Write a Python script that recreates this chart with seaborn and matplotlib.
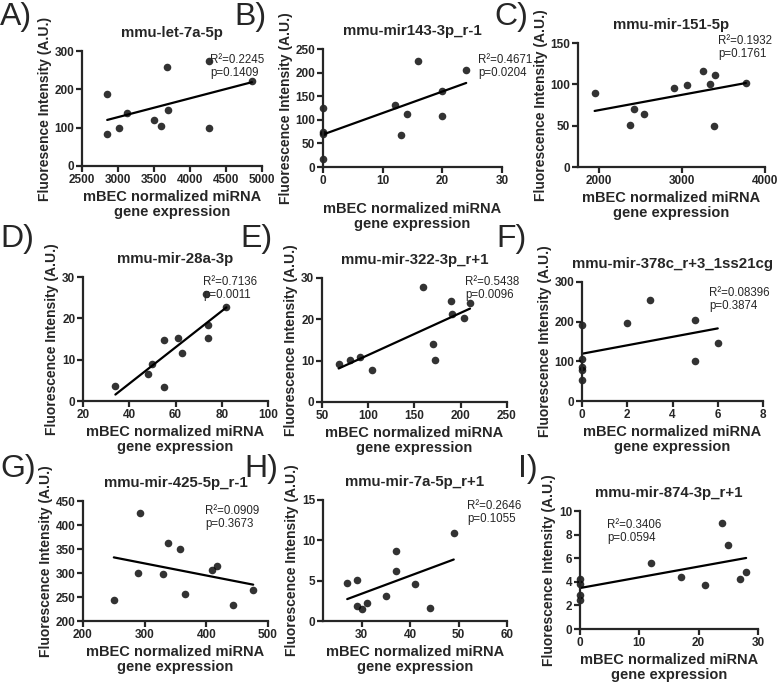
import numpy as np
import matplotlib
matplotlib.use("Agg")
import matplotlib.pyplot as plt
import seaborn as sns

# values
letters = ["A)", "B)", "C)", "D)", "E)", "F)", "G)", "H)", "I)"]
titles = ["mmu-let-7a-5p", "mmu-mir143-3p_r-1", "mmu-mir-151-5p",
          "mmu-mir-28a-3p", "mmu-mir-322-3p_r+1", "mmu-mir-378c_r+3_1ss21cg",
          "mmu-mir-425-5p_r-1", "mmu-mir-7a-5p_r+1", "mmu-mir-874-3p_r+1"]
r2_labels = ["R²=0.2245", "R²=0.4671", "R²=0.1932", "R²=0.7136", "R²=0.5438",
             "R²=0.08396", "R²=0.0909", "R²=0.2646", "R²=0.3406"]
p_labels = ["p=0.1409", "p=0.0204", "p=0.1761", "p=0.0011", "p=0.0096",
            "p=0.3874", "p=0.3673", "p=0.1055", "p=0.0594"]

a_x = [2850, 2850, 3010, 3130, 3500, 3600, 3680, 3700, 4270, 4270, 4860]
a_y = [188, 83, 99, 139, 121, 105, 257, 145, 274, 100, 221]
b_x = [0, 0, 0, 0, 12, 13, 14, 16, 20, 20, 24]
b_y = [125, 75, 70, 18, 132, 68, 113, 224, 161, 107, 206]
c_x = [1950, 2370, 2420, 2540, 2900, 3060, 3250, 3340, 3400, 3390, 3770]
c_y = [90, 51, 70, 64, 96, 99, 116, 100, 111, 50, 102]
d_x = [34, 48, 50, 55, 55, 61, 63, 73, 74, 74, 82]
d_y = [3.7, 6.5, 8.9, 14.8, 3.4, 15.3, 11.7, 26, 18.4, 15.2, 22.8]
e_x = [68, 80, 91, 104, 159, 170, 172, 189, 191, 203, 210]
e_y = [9.3, 10.2, 10.8, 7.7, 27.8, 14, 10.2, 24.4, 21.2, 20.3, 24]
f_x = [0, 0, 0, 0, 0, 2, 3, 5, 5, 6]
f_y = [192, 105, 85, 78, 54, 196, 254, 204, 100, 147]
g_x = [250, 290, 293, 330, 338, 358, 366, 409, 417, 443, 476]
g_y = [243, 299, 425, 297, 363, 349, 257, 306, 314, 234, 264]
h_x = [27, 29, 29, 30, 31, 35, 37, 37, 41, 44, 49]
h_y = [4.7, 5.1, 1.8, 1.5, 2.2, 3.1, 8.7, 6.2, 4.6, 1.6, 10.9]
i_x = [0, 0, 0, 0, 12, 17, 21, 24, 25, 27, 28]
i_y = [4.2, 3.8, 2.9, 2.5, 5.6, 4.4, 3.7, 9.0, 7.1, 4.2, 4.8]

xs = [a_x, b_x, c_x, d_x, e_x, f_x, g_x, h_x, i_x]
ys = [a_y, b_y, c_y, d_y, e_y, f_y, g_y, h_y, i_y]

x_ticks = [[2500, 3000, 3500, 4000, 4500, 5000], [0, 10, 20, 30], [2000, 3000, 4000],
           [20, 40, 60, 80, 100], [50, 100, 150, 200, 250], [0, 2, 4, 6, 8],
           [200, 300, 400, 500], [30, 40, 50, 60], [0, 10, 20, 30]]
y_ticks = [[0, 100, 200, 300], [0, 50, 100, 150, 200, 250], [0, 50, 100, 150],
           [0, 10, 20, 30], [0, 10, 20, 30], [0, 100, 200, 300],
           [200, 250, 300, 350, 400, 450], [0, 5, 10, 15], [0, 2, 4, 6, 8, 10]]
x_lims = [(2500, 5000), (0, 30), (1750, 4000), (20, 100), (50, 250), (0, 8),
          (200, 500), (22, 60), (0, 30)]

# layout in pixels: left, top, right, bottom of each plot area
W, H = 778, 686
boxes = [(82, 51, 262, 166), (323, 49, 502, 167), (578, 43, 765, 167),
         (83, 277, 268, 401), (322, 278, 507, 402), (582, 282, 763, 401),
         (83, 501, 268, 621), (323, 500, 507, 621), (580, 511, 758, 629)]
letter_pos = [(0, 2), (234, 2), (494, 2), (0, 224), (240, 224), (496, 224),
              (0, 454), (244, 454), (518, 454)]
stat_pos = [(210, 54), (478, 54), (718, 35), (203, 276), (465, 276), (709, 287),
            (205, 505), (467, 500), (607, 519)]
xlabel_pad = [3, 11, 3, 3, 3, 3, 3, 3, 3]

sns.set_style("ticks")
plt.rcParams['font.family'] = ['Liberation Sans', 'DejaVu Sans']
plt.rcParams['font.weight'] = 'bold'
plt.rcParams['axes.labelweight'] = 'bold'
plt.rcParams['axes.linewidth'] = 1.6

fig = plt.figure(figsize=(W / 100, H / 100), dpi=100)

for k in range(9):
    l, t, r, b = boxes[k]
    ax = fig.add_axes([l / W, 1 - b / H, (r - l) / W, (b - t) / H])
    sns.regplot(x=np.array(xs[k]), y=np.array(ys[k]), ax=ax, ci=None, color='black',
                scatter_kws={'s': 30, 'clip_on': False, 'linewidths': 0},
                line_kws={'lw': 1.6})
    ax.set_xlim(*x_lims[k])
    ax.set_ylim(y_ticks[k][0], y_ticks[k][-1])
    ax.set_xticks(x_ticks[k])
    ax.set_yticks(y_ticks[k])
    ax.tick_params(width=1.6, length=4, labelsize=8.5, pad=1.5)
    sns.despine(ax=ax)
    ax.set_title(titles[k], fontsize=10.8, fontweight='bold', pad=10)
    ax.set_xlabel("mBEC normalized miRNA\ngene expression", fontsize=10.5,
                  labelpad=xlabel_pad[k], linespacing=1.1)
    ylab = "Fluoresence Intensity (A.U.)" if k == 0 else "Fluorescence Intensity (A.U.)"
    ax.set_ylabel(ylab, fontsize=10, labelpad=2)

    sx, sy = stat_pos[k]
    fig.text(sx / W, 1 - sy / H, r2_labels[k] + "\n" + p_labels[k], fontsize=8.3,
             fontweight='normal', va='top', ha='left', linespacing=1.1)
    lx, ly = letter_pos[k]
    fig.text(lx / W, 1 - ly / H, letters[k], fontsize=23, fontweight='normal',
             va='top', ha='left')

fig.savefig("out.png", dpi=100)
